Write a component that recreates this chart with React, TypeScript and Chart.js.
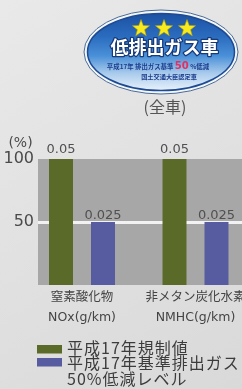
import React, { useEffect, useRef } from "react";
import { Chart, registerables } from "chart.js";

Chart.register(...registerables);

// ---- data ----
const categoryNames = ["窒素酸化物", "非メタン炭化水素"];
const categoryUnits = ["NOx(g/km)", "NMHC(g/km)"];
const categoryPositions = [0, 1];
const regulationPercent = [100, 100];
const reductionPercent = [50, 50];
const regulationLabels = ["0.05", "0.05"];
const reductionLabels = ["0.025", "0.025"];
const yTickValues = [50, 100];
const seriesNames = ["平成17年規制値", "平成17年基準排出ガス\n50%低減レベル"];
const yUnit = "(%)";
const subtitle = "(全車)";
const badgeTitle = "低排出ガス車";
const badgeLine1 = ["平成17年 排出ガス基準 ", "50", " %低減"];
const badgeLine2 = "国土交通大臣認定車";

const W = 242;
const H = 389;
const CJK = '"Noto Sans CJK JP", sans-serif';
const LAT = '"DejaVu Sans", "Noto Sans CJK JP", sans-serif';

function drawStar(ctx: CanvasRenderingContext2D, cx: number, cy: number, R: number, r: number) {
  ctx.beginPath();
  for (let k = 0; k < 10; k++) {
    const ang = -Math.PI / 2 + (k * Math.PI) / 5;
    const rad = k % 2 === 0 ? R : r;
    ctx.lineTo(cx + rad * Math.cos(ang), cy + rad * Math.sin(ang));
  }
  ctx.closePath();
  ctx.fill();
  ctx.stroke();
}

function drawBadge(ctx: CanvasRenderingContext2D) {
  const cx = 161;
  const cy = 52;
  ctx.save();
  ctx.beginPath();
  ctx.ellipse(cx, cy, 77, 42, 0, 0, Math.PI * 2);
  ctx.fillStyle = "#f3f7fb";
  ctx.fill();
  ctx.strokeStyle = "#4a6a96";
  ctx.lineWidth = 1;
  ctx.stroke();

  ctx.beginPath();
  ctx.ellipse(cx, cy, 73.5, 38.5, 0, 0, Math.PI * 2);
  const g = ctx.createLinearGradient(0, cy - 38, 0, cy + 38);
  g.addColorStop(0, "#1c52a4");
  g.addColorStop(0.3, "#2b6cbf");
  g.addColorStop(0.55, "#4a90d8");
  g.addColorStop(0.78, "#a9cbec");
  g.addColorStop(1, "#e6f0fa");
  ctx.fillStyle = g;
  ctx.fill();
  ctx.strokeStyle = "#1d4a90";
  ctx.lineWidth = 1.5;
  ctx.stroke();

  ctx.fillStyle = "#f8ea1c";
  ctx.strokeStyle = "#b9a200";
  ctx.lineWidth = 0.6;
  [141, 164, 187].forEach((sx) => drawStar(ctx, sx, 28.5, 9, 3.8));

  ctx.textAlign = "center";
  ctx.textBaseline = "middle";
  ctx.font = `bold 18px ${CJK}`;
  ctx.lineJoin = "round";
  ctx.strokeStyle = "#173a78";
  ctx.lineWidth = 2.5;
  ctx.strokeText(badgeTitle, 164.5, 47);
  ctx.fillStyle = "#ffffff";
  ctx.fillText(badgeTitle, 164.5, 47);

  // line 1 with red "50"
  const small = `bold 6.4px ${CJK}`;
  const big = `bold 10px ${LAT}`;
  ctx.font = small;
  const w0 = ctx.measureText(badgeLine1[0]).width;
  const w2 = ctx.measureText(badgeLine1[2]).width;
  ctx.font = big;
  const w1 = ctx.measureText(badgeLine1[1]).width;
  let x = 158 - (w0 + w1 + w2) / 2;
  ctx.textAlign = "left";
  ctx.font = small;
  ctx.fillStyle = "#1b3c8c";
  ctx.fillText(badgeLine1[0], x, 66.5);
  x += w0;
  ctx.font = big;
  ctx.fillStyle = "#e3305e";
  ctx.fillText(badgeLine1[1], x, 66);
  x += w1;
  ctx.font = small;
  ctx.fillStyle = "#1b3c8c";
  ctx.fillText(badgeLine1[2], x, 66.5);

  ctx.textAlign = "center";
  ctx.font = `bold 6.2px ${CJK}`;
  ctx.fillText(badgeLine2, 169, 76.5);

  ctx.font = `16px ${CJK}`;
  ctx.fillStyle = "#555555";
  ctx.fillText(subtitle, 165, 107);
  ctx.restore();
}

export default function App() {
  const ref = useRef<HTMLCanvasElement | null>(null);

  useEffect(() => {
    const canvas = ref.current;
    if (!canvas) return;
    const plotLeft = 38;
    const plotTop = 159;
    const plotBottom = 285;
    const catSpacing = 113.5;
    const firstCenter = 82;
    const xMin = -(firstCenter - plotLeft) / catSpacing;
    const xMax = xMin + (W - plotLeft) / catSpacing;

    const bgPlugin = {
      id: "bgPlugin",
      beforeDraw(chart: any) {
        const ctx: CanvasRenderingContext2D = chart.ctx;
        ctx.save();
        const g = ctx.createLinearGradient(0, 0, W, H);
        g.addColorStop(0, "#e9e9e9");
        g.addColorStop(1, "#d9d9d9");
        ctx.fillStyle = g;
        ctx.fillRect(0, 0, W, H);
        const a = chart.chartArea;
        ctx.fillStyle = "#a7a7a7";
        ctx.fillRect(a.left, a.top, a.right - a.left, a.bottom - a.top);
        ctx.restore();
        drawBadge(ctx);
        ctx.save();
        ctx.font = `14px ${LAT}`;
        ctx.fillStyle = "#4a4a4a";
        ctx.textAlign = "center";
        ctx.textBaseline = "middle";
        ctx.fillText(yUnit, 20.5, 143);
        ctx.restore();
      },
    };

    const labelPlugin = {
      id: "labelPlugin",
      afterDatasetsDraw(chart: any) {
        const ctx: CanvasRenderingContext2D = chart.ctx;
        ctx.save();
        ctx.font = `13px ${LAT}`;
        ctx.fillStyle = "#505050";
        ctx.textAlign = "center";
        ctx.textBaseline = "alphabetic";
        chart.data.datasets.forEach((ds: any, di: number) => {
          const meta = chart.getDatasetMeta(di);
          meta.data.forEach((el: any, i: number) => {
            ctx.fillText(ds.valueLabels[i], el.x, el.y - ds.labelGap);
          });
        });
        ctx.restore();
      },
    };

    const legendPlugin = {
      id: "customLegend",
      afterDraw(chart: any) {
        const ctx: any = chart.ctx;
        ctx.save();
        ctx.font = `16px ${CJK}`;
        ctx.letterSpacing = "1px";
        ctx.textAlign = "left";
        ctx.textBaseline = "middle";
        let line = 0;
        chart.data.datasets.forEach((ds: any, di: number) => {
          ctx.fillStyle = ds.backgroundColor;
          ctx.fillRect(37, 345 + di * 13, 25, 8.5);
          ctx.fillStyle = "#3c3c3c";
          String(ds.label)
            .split("\n")
            .forEach((ln: string) => {
              ctx.fillText(ln, 67, 347.5 + line * 15.5);
              line++;
            });
        });
        ctx.restore();
      },
    };

    const chart = new Chart(canvas, {
      type: "bar",
      data: {
        datasets: [
          {
            label: seriesNames[0],
            data: categoryPositions.map((x, i) => ({ x, y: regulationPercent[i] })),
            backgroundColor: "#5a6a29",
            borderWidth: 0,
            categoryPercentage: 0.74,
            barPercentage: 0.571,
            valueLabels: regulationLabels,
            labelGap: 6,
          } as any,
          {
            label: seriesNames[1],
            data: categoryPositions.map((x, i) => ({ x, y: reductionPercent[i] })),
            backgroundColor: "#575b9f",
            borderWidth: 0,
            categoryPercentage: 0.74,
            barPercentage: 0.571,
            valueLabels: reductionLabels,
            labelGap: 3,
          } as any,
        ],
      },
      options: {
        responsive: false,
        animation: false,
        devicePixelRatio: 1,
        events: [],
        layout: { padding: { top: plotTop, left: 0, right: 0, bottom: 0 } },
        plugins: {
          legend: { display: false },
          tooltip: { enabled: false },
          title: { display: false },
        },
        scales: {
          x: {
            type: "linear",
            min: xMin,
            max: xMax,
            bounds: "data",
            offset: false,
            afterBuildTicks: (s: any) => {
              s.ticks = categoryPositions.map((v) => ({ value: v }));
            },
            afterFit: (s: any) => {
              s.height = H - plotBottom;
              s.paddingLeft = 0;
              s.paddingRight = 0;
            },
            grid: { display: false, drawTicks: false, offset: false },
            border: { display: false },
            ticks: {
              autoSkip: false,
              maxRotation: 0,
              minRotation: 0,
              padding: 2.5,
              color: "#444444",
              font: { family: LAT, size: 12.5, lineHeight: 1.6 },
              callback: (_v: any, i: number) => [categoryNames[i], categoryUnits[i]],
            },
          } as any,
          y: {
            min: 0,
            max: 100,
            afterBuildTicks: (s: any) => {
              s.ticks = yTickValues.map((v) => ({ value: v }));
            },
            afterFit: (s: any) => {
              s.width = plotLeft;
              s.paddingTop = 0;
              s.paddingBottom = 0;
            },
            grid: {
              drawTicks: false,
              lineWidth: 3,
              color: (c: any) => (c.tick && c.tick.value === 50 ? "#f2f2f2" : "rgba(0,0,0,0)"),
            },
            border: { display: false },
            ticks: {
              padding: 4,
              color: "#4a4a4a",
              font: { family: LAT, size: 16 },
            },
          } as any,
        },
      },
      plugins: [bgPlugin, labelPlugin, legendPlugin],
    } as any);

    return () => chart.destroy();
  }, []);

  return (
    <div style={{ position: "fixed", left: 0, top: 0, width: W, height: H, overflow: "hidden" }}>
      <canvas ref={ref} width={W} height={H} style={{ display: "block", width: W, height: H }} />
    </div>
  );
}
